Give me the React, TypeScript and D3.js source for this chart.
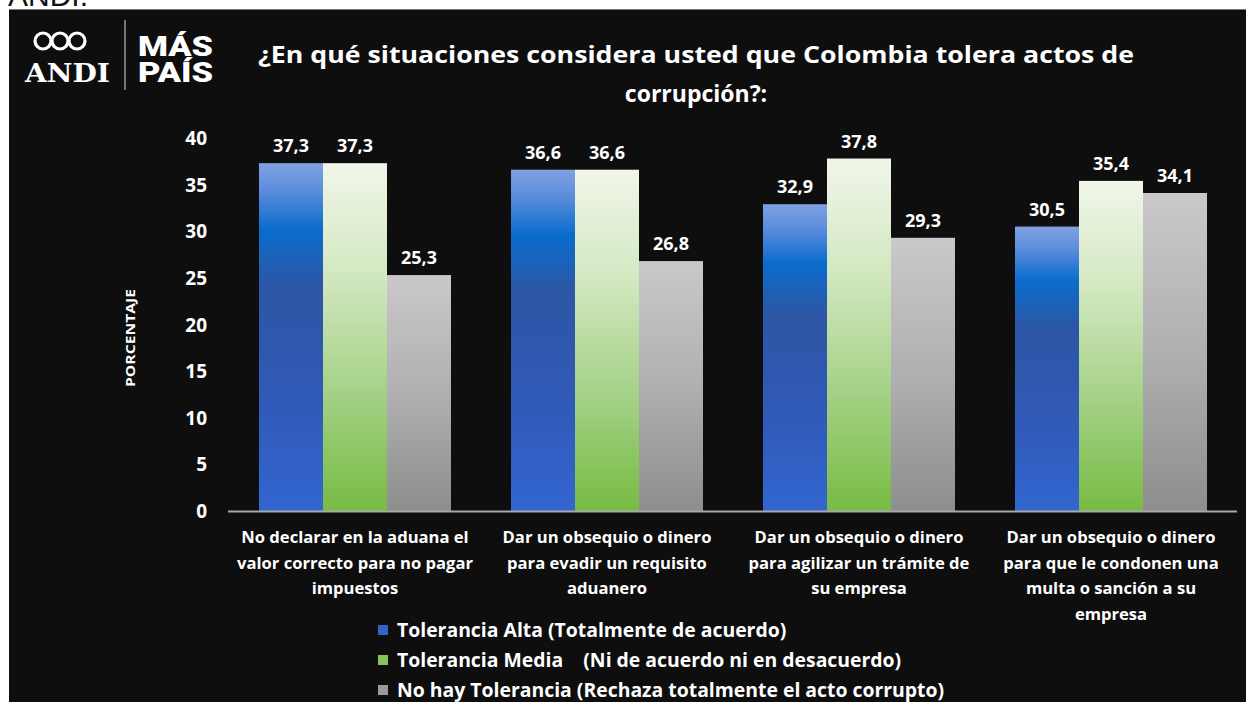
import React from "react";
import * as d3 from "d3";

const categories: string[][] = [
  ["No declarar en la aduana el", "valor correcto para no pagar", "impuestos"],
  ["Dar un obsequio o dinero", "para evadir un requisito", "aduanero"],
  ["Dar un obsequio o dinero", "para agilizar un trámite de", "su empresa"],
  ["Dar un obsequio o dinero", "para que le condonen una", "multa o sanción a su", "empresa"],
];
const seriesNames = [
  "Tolerancia Alta (Totalmente de acuerdo)",
  "Tolerancia Media    (Ni de acuerdo ni en desacuerdo)",
  "No hay Tolerancia (Rechaza totalmente el acto corrupto)",
];
const alta = [37.3, 36.6, 32.9, 30.5];
const media = [37.3, 36.6, 37.8, 35.4];
const noHay = [25.3, 26.8, 29.3, 34.1];
const yTicks = [0, 5, 10, 15, 20, 25, 30, 35, 40];
const title = [
  "¿En qué situaciones considera usted que Colombia tolera actos de",
  "corrupción?:",
];

const W = 1246;
const H = 702;
const FONT = "'Open Sans', Lato, sans-serif";

export default function App() {
  const series = [alta, media, noHay];
  const gradIds = ["gBlue", "gGreen", "gGray"];
  const legendColors = ["#3264c4", "#86c45a", "#9a9a9a"];

  const x0 = d3
    .scaleBand<number>()
    .domain(d3.range(categories.length))
    .range([229, 1237]);
  const x1 = d3
    .scaleBand<number>()
    .domain([0, 1, 2])
    .range([30, x0.bandwidth() - 30]);
  const y = d3.scaleLinear().domain([0, 40]).range([511, 138]);

  return (
    <svg
      width={W}
      height={H}
      style={{ position: "absolute", left: 0, top: 0, background: "#ffffff" }}
    >
      <defs>
        <linearGradient id="gBlue" x1="0" y1="0" x2="0" y2="1">
          <stop offset="0" stopColor="#7fa2e2" />
          <stop offset="0.08" stopColor="#5b8cdc" />
          <stop offset="0.19" stopColor="#0a6ccd" />
          <stop offset="0.36" stopColor="#2d56a4" />
          <stop offset="0.7" stopColor="#305ab8" />
          <stop offset="1" stopColor="#3366d0" />
        </linearGradient>
        <linearGradient id="gGreen" x1="0" y1="0" x2="0" y2="1">
          <stop offset="0" stopColor="#f0f6ea" />
          <stop offset="0.3" stopColor="#d5e9c4" />
          <stop offset="0.65" stopColor="#a6d288" />
          <stop offset="1" stopColor="#77bb44" />
        </linearGradient>
        <linearGradient id="gGray" x1="0" y1="0" x2="0" y2="1">
          <stop offset="0" stopColor="#cbc8cc" />
          <stop offset="0.5" stopColor="#b0afb1" />
          <stop offset="1" stopColor="#8e8e8e" />
        </linearGradient>
      </defs>

      {/* top white strip with cut text */}
      <text x={8} y={6} fontFamily="'Liberation Sans', Arial, sans-serif" fontSize={30} fill="#111">
        ANDI.
      </text>
      <rect x={9} y={9} width={W - 9} height={H - 9} fill="#0e0e0e" />
      <line x1={9} y1={9.5} x2={W} y2={9.5} stroke="#777" strokeWidth={1} />

      {/* logos */}
      <g fill="none" stroke="#ffffff" strokeWidth={3.2}>
        <circle cx={43} cy={41} r={8} />
        <circle cx={60} cy={41} r={8} />
        <circle cx={77} cy={41} r={8} />
      </g>
      <text
        x={25}
        y={82}
        fontFamily="'DejaVu Serif', 'Liberation Serif', serif"
        fontWeight="bold"
        fontSize={26}
        fill="#fff"
        textLength={85}
        lengthAdjust="spacingAndGlyphs"
      >
        ANDI
      </text>
      <line x1={125} y1={20} x2={125} y2={90} stroke="#9a9a9a" strokeWidth={1.5} />
      <text
        x={138}
        y={56}
        fontFamily="Roboto, sans-serif"
        fontWeight={900}
        fontSize={24}
        fill="#fff"
        textLength={75}
        lengthAdjust="spacingAndGlyphs"
        transform="translate(0,-8) scale(1,1.15)"
      >
        MÁS
      </text>
      <text
        x={138}
        y={72}
        fontFamily="Roboto, sans-serif"
        fontWeight={900}
        fontSize={24}
        fill="#fff"
        textLength={75}
        lengthAdjust="spacingAndGlyphs"
        transform="translate(0,-1) scale(1,1.15)"
      >
        PAÍS
      </text>

      {/* title */}
      <text
        x={696}
        y={63}
        textAnchor="middle"
        fontFamily={FONT}
        fontWeight="bold"
        fontSize={23}
        fill="#ffffff"
        textLength={876}
        lengthAdjust="spacingAndGlyphs"
      >
        {title[0]}
      </text>
      <text
        x={696}
        y={102}
        textAnchor="middle"
        fontFamily={FONT}
        fontWeight="bold"
        fontSize={23}
        fill="#ffffff"
      >
        {title[1]}
      </text>

      {/* y axis label */}
      <text
        transform={`translate(135,338) rotate(-90)`}
        textAnchor="middle"
        fontFamily={FONT}
        fontWeight="bold"
        fontSize={12.5}
        fill="#ffffff"
        textLength={98}
        lengthAdjust="spacingAndGlyphs"
      >
        PORCENTAJE
      </text>

      {/* y ticks */}
      {yTicks.map((t) => (
        <text
          key={t}
          x={207}
          y={y(t) + 7}
          textAnchor="end"
          fontFamily={FONT}
          fontWeight="bold"
          fontSize={19}
          fill="#ffffff"
        >
          {t}
        </text>
      ))}

      {/* bars */}
      {categories.map((_, ci) => (
        <g key={ci} transform={`translate(${x0(ci)},0)`}>
          {series.map((s, si) => (
            <g key={si}>
              <rect
                x={x1(si)}
                y={y(s[ci])}
                width={x1.bandwidth()}
                height={y(0) - y(s[ci])}
                fill={`url(#${gradIds[si]})`}
              />
              <text
                x={(x1(si) as number) + x1.bandwidth() / 2}
                y={y(s[ci]) - 11}
                textAnchor="middle"
                fontFamily={FONT}
                fontWeight="bold"
                fontSize={18}
                fill="#ffffff"
              >
                {s[ci].toFixed(1).replace(".", ",")}
              </text>
            </g>
          ))}
        </g>
      ))}

      {/* x axis line */}
      <line x1={228} y1={y(0) + 0.5} x2={1237} y2={y(0) + 0.5} stroke="#a8a8a8" strokeWidth={2} />

      {/* category labels */}
      {categories.map((lines, ci) => (
        <g key={ci}>
          {lines.map((ln, li) => (
            <text
              key={li}
              x={(x0(ci) as number) + x0.bandwidth() / 2}
              y={543 + li * 25.5}
              textAnchor="middle"
              fontFamily={FONT}
              fontWeight="bold"
              fontSize={16.6}
              fill="#ffffff"
            >
              {ln}
            </text>
          ))}
        </g>
      ))}

      {/* legend */}
      {seriesNames.map((n, i) => (
        <g key={i}>
          <rect x={378} y={625 + i * 30} width={10} height={10} fill={legendColors[i]} />
          <text
            x={397}
            y={637 + i * 30}
            fontFamily={FONT}
            fontWeight="bold"
            fontSize={19.4}
            fill="#ffffff"
            style={{ whiteSpace: "pre" }}
          >
            {n}
          </text>
        </g>
      ))}
    </svg>
  );
}
